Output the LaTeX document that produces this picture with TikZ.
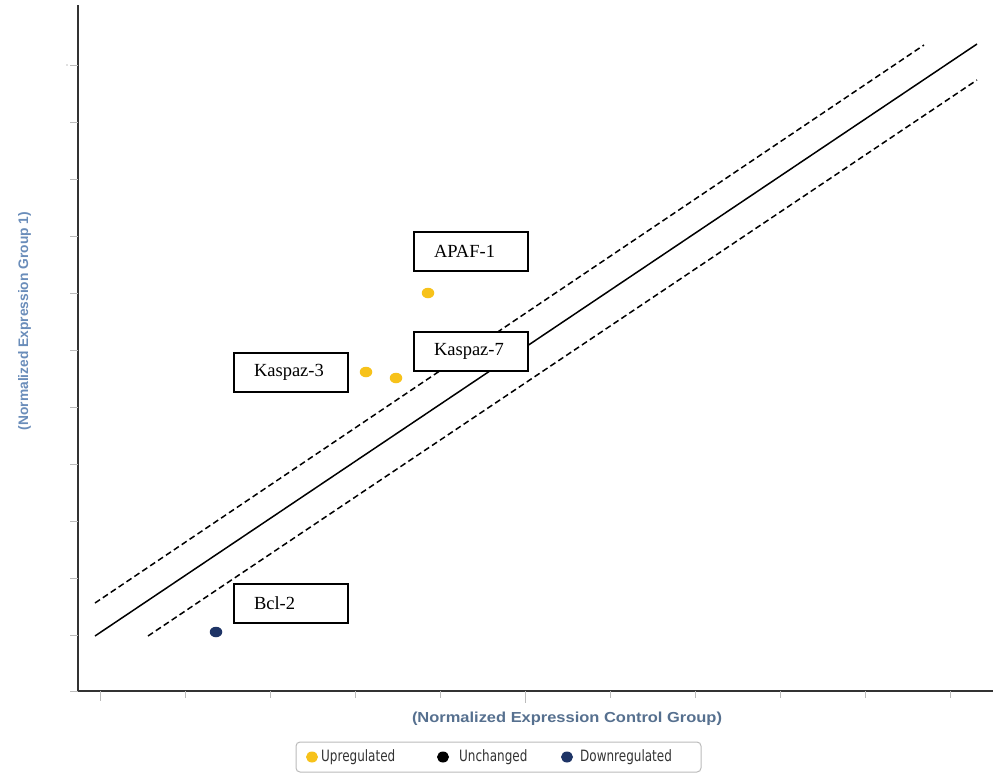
\documentclass[tikz,border=0pt]{standalone}
\usepackage{fontspec}
\usepackage{graphicx}
\usetikzlibrary{shapes.geometric}
\setmainfont{Liberation Serif}
\setsansfont{Liberation Sans}
\newfontfamily\legfont{DejaVu Sans}
\definecolor{upcol}{HTML}{F7C21A}
\definecolor{downcol}{HTML}{1E3466}
\definecolor{xtitle}{HTML}{56708F}
\definecolor{ytitle}{HTML}{6A8DBA}
\definecolor{axiscol}{HTML}{333333}
\definecolor{tickcol}{HTML}{BBBBBB}
\definecolor{legtext}{HTML}{333333}
\begin{document}
\begin{tikzpicture}[x=1pt,y=-1pt,
  lbl/.style={draw, line width=1.3pt, text width=74pt, align=left, inner xsep=20pt,
    minimum height=39pt, font=\fontsize{18.5}{18.5}\selectfont},
  dot/.style={ellipse, inner sep=0pt, minimum width=12.5pt, minimum height=10.5pt},
  legdot/.style={ellipse, inner sep=0pt, minimum width=12pt, minimum height=11pt},
  legtxt/.style={anchor=west, inner sep=0pt, text=legtext},
  ref/.style={line width=1.5pt},
  refd/.style={line width=1.5pt, dash pattern=on 6pt off 3.5pt},
  tick/.style={tickcol, line width=0.8pt}]
\newcommand{\legtext}[1]{\scalebox{1}[1.3]{\legfont\fontsize{12}{12}\selectfont #1}}
\useasboundingbox (0,0) rectangle (993,774);
\fill[white] (0,0) rectangle (993,774);
% axes
\coordinate (ytop) at (78,5);
\coordinate (orig) at (78,691);
\coordinate (xend) at (993,691);
\draw[axiscol, line width=1.3pt] (ytop) -- (orig) -- (xend);
\foreach \k in {0,...,10} {
  \draw[tick] (78,{635-57*\k}) -- (70,{635-57*\k});
  \draw[tick] ({100+85*\k},691) -- ({100+85*\k},698);
}
\draw[tick] (78,691) -- (70,691);
\draw[tick] (100,698) -- (100,701);
\draw[tick] (525,698) -- (525,703);
\fill[gray] (67,65) circle (0.7pt);
% reference lines
\coordinate (s1) at (95,636);
\coordinate (s2) at (977,44);
\coordinate (u1) at (95,603);
\coordinate (u2) at (924,45);
\coordinate (l1) at (148,636);
\coordinate (l2) at (977,80);
\draw[ref] (s1) -- (s2);
\draw[refd] (u1) -- (u2);
\draw[refd] (l1) -- (l2);
% points
\node[dot, fill=upcol] (apaf) at (428,293) {};
\node[dot, fill=upcol] (k3) at (366,372) {};
\node[dot, fill=upcol] (k7) at (396,378) {};
\node[dot, fill=downcol] (bcl) at (216,632) {};
% labels
\node[lbl, fill=white] (apafl) at (471,251.5) {APAF-1};
\node[lbl, fill=white] (k7l) at (471,351.5) {Kaspaz-7};
\node[lbl, fill=white] (k3l) at (291,372.5) {Kaspaz-3};
\node[lbl, fill=white] (bcll) at (291,603.5) {Bcl-2};
% axis titles
\node[text=xtitle, inner sep=0pt, anchor=base] (xt) at (567,722)
  {\resizebox{310pt}{10.5pt}{\sffamily\bfseries (Normalized Expression Control Group)}};
\node[text=ytitle, inner sep=0pt, rotate=90, anchor=base] (yt) at (28,321)
  {\resizebox{218pt}{10pt}{\sffamily\bfseries (Normalized Expression Group 1)}};
% legend
\node[draw=tickcol, line width=1pt, rounded corners=4pt, minimum width=405pt, minimum height=30pt] (leg) at (498.5,757) {};
\node[legdot, fill=upcol] (ld1) at (312,757) {};
\node[legtxt] (lt1) at (321,757) {\legtext{Upregulated}};
\node[legdot, fill=black] (ld2) at (443,757) {};
\node[legtxt] (lt2) at (459,757) {\legtext{Unchanged}};
\node[legdot, fill=downcol] (ld3) at (567,757) {};
\node[legtxt] (lt3) at (580,757) {\legtext{Downregulated}};
\end{tikzpicture}
\end{document}
